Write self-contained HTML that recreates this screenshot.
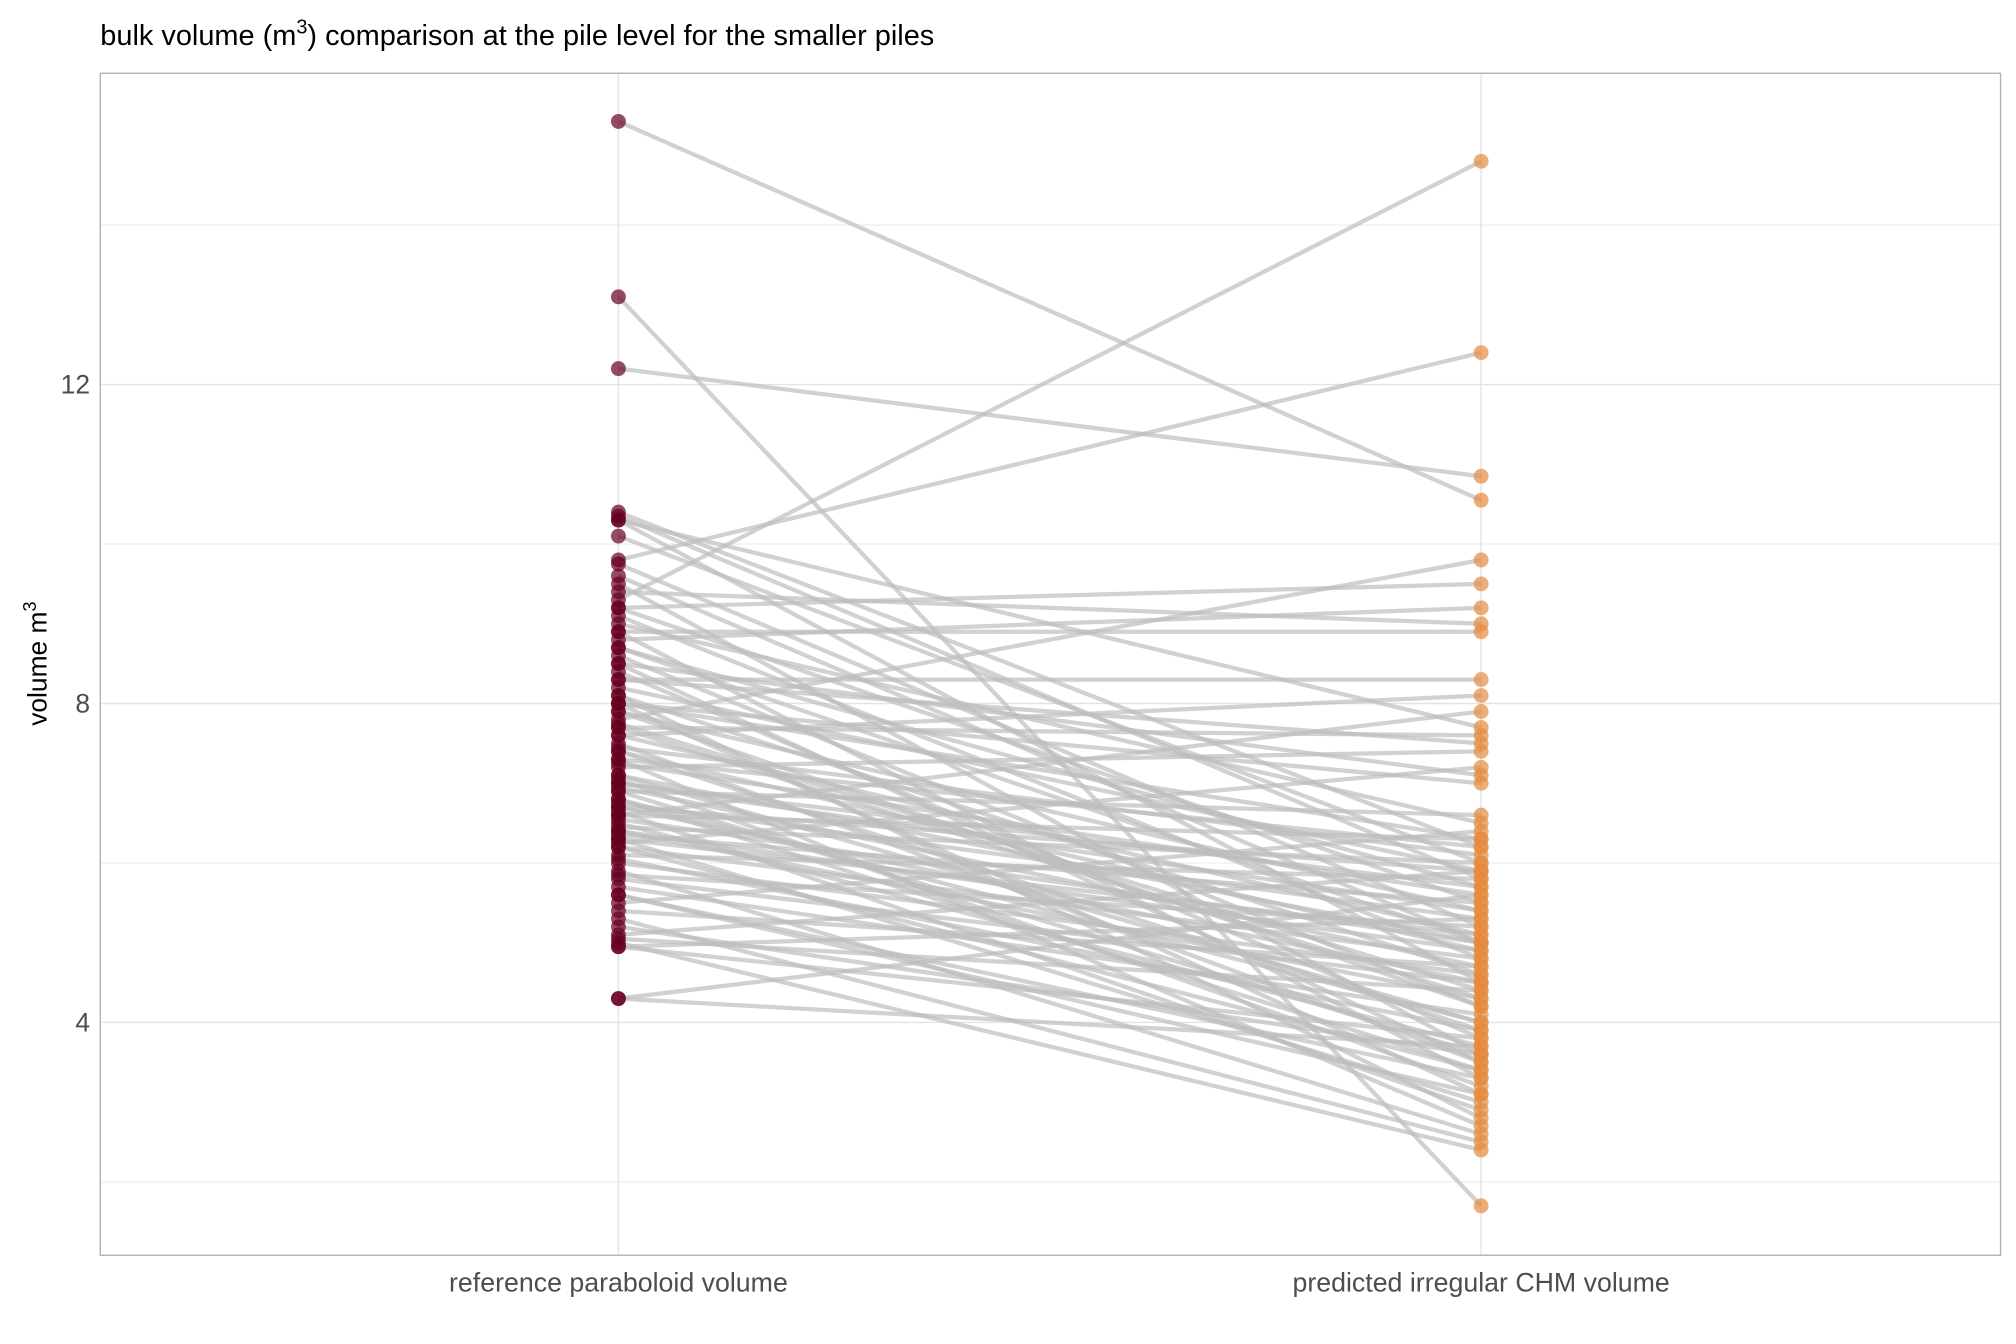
<!DOCTYPE html>
<html><head><meta charset="utf-8"><style>
html,body{margin:0;padding:0;background:#fff;}
svg{display:block;font-family:"Liberation Sans",Arial,sans-serif;}
</style></head><body>
<svg id="s" width="2016" height="1344" viewBox="0 0 1568 1045" preserveAspectRatio="none" xmlns="http://www.w3.org/2000/svg">
<rect x="0" y="0" width="1568" height="1045" fill="#fff"/>
<g stroke="#ebebeb" stroke-width="0.8">
<line x1="78" x2="1556" y1="175.0" y2="175.0"/>
<line x1="78" x2="1556" y1="423.0" y2="423.0"/>
<line x1="78" x2="1556" y1="671.0" y2="671.0"/>
<line x1="78" x2="1556" y1="919.0" y2="919.0"/>
</g>
<g stroke="#e3e3e3" stroke-width="1.1">
<line x1="78" x2="1556" y1="299" y2="299"/>
<line x1="78" x2="1556" y1="547" y2="547"/>
<line x1="78" x2="1556" y1="795" y2="795"/>
<line x1="481" x2="481" y1="57" y2="976"/>
<line x1="1152" x2="1152" y1="57" y2="976"/>
</g>
<g id="lines" stroke="#bebebe" stroke-opacity="0.7" stroke-width="3.3"></g>
<g id="pts"></g>
<rect x="78" y="57" width="1478" height="919" fill="none" stroke="#b3b3b3" stroke-width="1.1"/>
<g font-size="20.5" fill="#4d4d4d" text-anchor="end">
<text x="70" y="306">12</text>
<text x="70" y="554">8</text>
<text x="70" y="802">4</text>
</g>
<g font-size="20.8" fill="#4d4d4d" text-anchor="middle">
<text x="481" y="1004">reference paraboloid volume</text>
<text x="1152" y="1004">predicted irregular CHM volume</text>
</g>
<text transform="translate(36,516) rotate(-90)" font-size="20.5" fill="#000" text-anchor="middle">volume m<tspan dy="-8" font-size="14">3</tspan></text>
<text x="78" y="35" font-size="22.5" fill="#000">bulk volume (m<tspan dy="-9" font-size="15.5">3</tspan><tspan dy="9">) comparison at the pile level for the smaller piles</tspan></text>
</svg>
<script>
var d=[15.3,10.55,13.1,1.7,12.2,10.85,10.4,6.2,10.35,5.8,10.3,4.5,10.3,7.7,10.1,6.0,9.8,12.4,9.75,5.2,9.5,3.6,9.4,9.0,9.3,14.8,9.2,5.5,9.1,4.8,9.0,6.5,8.9,3.3,8.8,9.2,8.7,5.0,8.6,4.2,8.5,7.1,8.4,3.8,8.3,8.3,8.2,5.9,8.1,4.6,8.0,6.3,8.0,3.1,7.9,5.4,7.8,9.8,7.75,4.4,7.7,7.6,7.6,5.1,7.5,3.5,7.45,6.1,7.4,4.9,7.3,2.7,7.25,5.6,7.2,7.4,7.1,4.0,7.05,3.2,7.0,5.7,6.95,4.7,6.9,6.6,6.8,3.4,6.75,5.3,6.7,4.5,6.65,2.9,6.6,7.9,6.55,5.0,6.5,3.7,6.45,6.0,6.4,4.3,6.35,5.5,6.3,3.0,6.25,7.2,6.2,4.8,6.1,5.8,6.05,3.9,6.0,4.6,5.9,2.6,5.85,5.2,5.7,4.1,5.6,3.3,5.5,6.4,5.4,4.7,5.3,2.5,5.2,3.6,5.1,5.9,5.05,4.4,5.0,2.4,4.95,3.8,4.95,5.3,4.3,5.6,4.3,3.7,8.9,8.9,9.2,9.5,7.6,8.1,8.3,7.5,6.6,6.3,7.9,4.2,8.5,3.5,6.8,4.0,7.3,6.2,5.6,3.1,6.9,3.6,7.1,5.0,8.1,2.8,7.0,5.4,6.4,4.9,8.7,5.7,7.7,4.3,6.2,3.4,9.6,5.0,8.0,7.0,6.7,5.9,7.4,3.9,5.8,4.5,6.3,5.1];
var ns="http://www.w3.org/2000/svg",L=document.getElementById("lines"),P=document.getElementById("pts");
function y(v){return 547-(v-8)*62;}
for(var i=0;i<d.length;i+=2){var l=document.createElementNS(ns,"line");l.setAttribute("x1",481);l.setAttribute("x2",1152);l.setAttribute("y1",y(d[i]));l.setAttribute("y2",y(d[i+1]));L.appendChild(l);}
for(var i=0;i<d.length;i+=2){
var c=document.createElementNS(ns,"circle");c.setAttribute("cx",481);c.setAttribute("cy",y(d[i]));c.setAttribute("r",5.8);c.setAttribute("fill","#67001f");c.setAttribute("fill-opacity","0.7");P.appendChild(c);
var e=document.createElementNS(ns,"circle");e.setAttribute("cx",1152);e.setAttribute("cy",y(d[i+1]));e.setAttribute("r",5.8);e.setAttribute("fill","#e68a3e");e.setAttribute("fill-opacity","0.7");P.appendChild(e);}
</script>
</body></html>
